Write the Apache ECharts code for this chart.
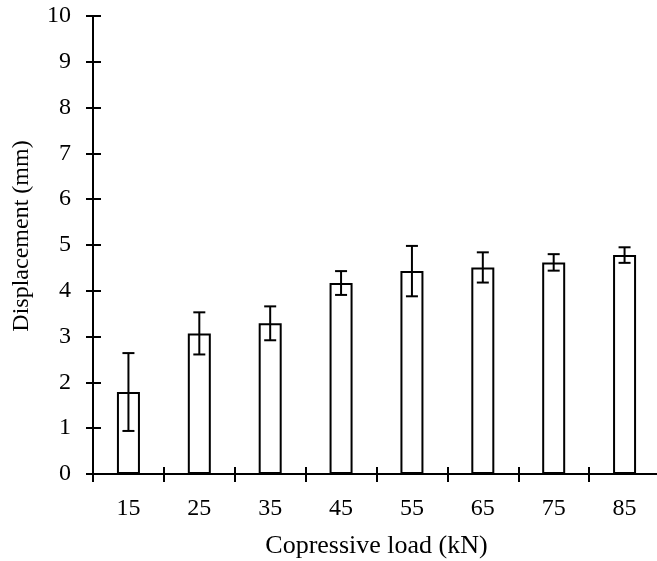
<!DOCTYPE html>
<html>
<head>
<meta charset="utf-8">
<script src="https://cdn.jsdelivr.net/npm/echarts@6/dist/echarts.min.js"></script>
<style>html,body{margin:0;padding:0;background:#fff;}#c{width:657px;height:561px;}</style>
</head>
<body>
<div id="c"></div>
<script>
const categories = ['15','25','35','45','55','65','75','85'];
const displacement = [1.79, 3.07, 3.29, 4.17, 4.43, 4.51, 4.62, 4.78];
const errors = [0.85, 0.46, 0.37, 0.26, 0.55, 0.33, 0.18, 0.17];
const yTicks = {min: 0, max: 10, interval: 1};

const font = 'Liberation Serif';
const chart = echarts.init(document.getElementById('c'));
const errData = displacement.map((v, i) => [i, v - errors[i], v + errors[i]]);

chart.setOption({
  animation: false,
  backgroundColor: '#fff',
  grid: {left: 93, top: 16, width: 567, height: 458, containLabel: false, outerBoundsMode: 'none'},
  xAxis: [{
    type: 'category', data: categories,
    name: 'Copressive load (kN)', nameLocation: 'middle', nameGap: 59,
    nameTextStyle: {fontFamily: font, fontSize: 26, color: '#000'},
    axisLine: {lineStyle: {color: '#000', width: 2}},
    axisTick: {show: true, length: 8, lineStyle: {color: '#000', width: 2}},
    axisLabel: {fontFamily: font, fontSize: 24, color: '#000', margin: 23},
    splitLine: {show: false}
  }, {
    type: 'category', data: categories, position: 'bottom',
    axisLine: {show: false},
    axisTick: {show: true, inside: true, length: 7, lineStyle: {color: '#000', width: 2}},
    axisLabel: {show: false}, splitLine: {show: false}
  }],
  yAxis: [{
    type: 'value', min: yTicks.min, max: yTicks.max, interval: yTicks.interval,
    name: 'Displacement (mm)', nameLocation: 'middle', nameGap: 59,
    nameTextStyle: {fontFamily: font, fontSize: 24, color: '#000', padding: [0, 0, 0, 18]},
    axisLine: {show: true, lineStyle: {color: '#000', width: 2}},
    axisTick: {show: true, length: 7, lineStyle: {color: '#000', width: 2}},
    axisLabel: {fontFamily: font, fontSize: 24, color: '#000', margin: 22},
    splitLine: {show: false}
  }, {
    type: 'value', min: yTicks.min, max: yTicks.max, interval: yTicks.interval, position: 'left',
    axisLine: {show: false},
    axisTick: {show: true, inside: true, length: 8, lineStyle: {color: '#000', width: 2}},
    axisLabel: {show: false}, splitLine: {show: false}
  }],
  series: [{
    type: 'bar', data: displacement, barWidth: 23,
    itemStyle: {color: '#fff', borderColor: '#000', borderWidth: 2},
    z: 2
  }, {
    type: 'custom', data: errData, z: 3,
    renderItem: function (params, api) {
      const x = api.value(0);
      const lo = api.coord([x, api.value(1)]);
      const hi = api.coord([x, api.value(2)]);
      const hw = 6;
      const style = {stroke: '#000', lineWidth: 2, fill: null};
      return {
        type: 'group',
        children: [
          {type: 'line', shape: {x1: lo[0], y1: lo[1], x2: hi[0], y2: hi[1]}, style: style},
          {type: 'line', shape: {x1: lo[0] - hw, y1: lo[1], x2: lo[0] + hw, y2: lo[1]}, style: style},
          {type: 'line', shape: {x1: hi[0] - hw, y1: hi[1], x2: hi[0] + hw, y2: hi[1]}, style: style}
        ]
      };
    }
  }]
});
</script>
</body>
</html>
